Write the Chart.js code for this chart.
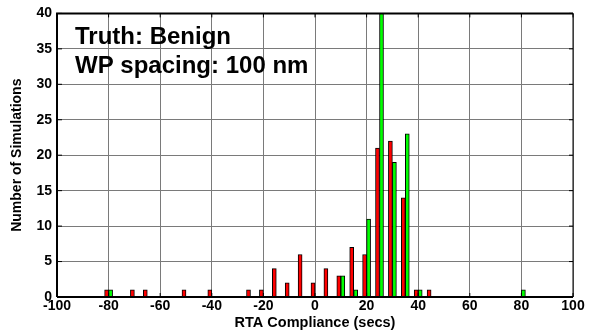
<!DOCTYPE html>
<html>
<head>
<meta charset="utf-8">
<script src="https://cdn.jsdelivr.net/npm/chart.js@4/dist/chart.umd.min.js"></script>
<style>
    html, body { margin: 0; padding: 0; background: #fff; }
    #wrap { width: 590px; height: 333px; }
</style>
</head>
<body>
<div id="wrap"><canvas id="histChart" width="590" height="333"></canvas></div>
<script>
// Histogram bins (secs) and counts
const redBins = [-80, -70, -65, -50, -40, -25, -20, -15, -10, -5, 0, 5, 10, 15, 20, 25, 30, 35, 40, 45];
const redCounts = [1, 1, 1, 1, 1, 1, 1, 4, 2, 6, 2, 4, 3, 7, 6, 21, 22, 14, 1, 1];
const greenBins = [-80, 10, 15, 20, 25, 30, 35, 40, 80];
const greenCounts = [1, 3, 1, 11, 40, 19, 23, 1, 1];

const xTicks = [-100, -80, -60, -40, -20, 0, 20, 40, 60, 80, 100];
const yTicks = [0, 5, 10, 15, 20, 25, 30, 35, 40];
const notes = ['Truth: Benign', 'WP spacing: 100 nm'];

const FONT = "'Liberation Sans', Arial, Helvetica, sans-serif";

function toPoints(bins, counts) {
    return bins.map((b, i) => ({ x: b, y: counts[i] }));
}

// frame, inward tick marks and the annotation text
const framePlugin = {
    id: 'frame',
    afterDatasetsDraw(chart) {
        const { ctx, chartArea: a, scales } = chart;
        ctx.save();
        ctx.strokeStyle = '#000';
        ctx.lineWidth = 1;
        xTicks.forEach(v => {
            const x = scales.x.getPixelForValue(v);
            ctx.beginPath();
            ctx.moveTo(x, a.bottom); ctx.lineTo(x, a.bottom - 4);
            ctx.moveTo(x, a.top); ctx.lineTo(x, a.top + 4);
            ctx.stroke();
        });
        yTicks.forEach(v => {
            const y = scales.y.getPixelForValue(v);
            ctx.beginPath();
            ctx.moveTo(a.left, y); ctx.lineTo(a.left + 5, y);
            ctx.moveTo(a.right, y); ctx.lineTo(a.right - 4, y);
            ctx.stroke();
        });
        ctx.lineWidth = 2;
        ctx.beginPath();
        ctx.moveTo(a.left, a.bottom); ctx.lineTo(a.left, a.top); ctx.lineTo(a.right, a.top);
        ctx.moveTo(a.left, a.bottom); ctx.lineTo(a.right, a.bottom);
        ctx.stroke();
        ctx.lineWidth = 1;
        ctx.beginPath();
        ctx.moveTo(a.right, a.top); ctx.lineTo(a.right, a.bottom);
        ctx.stroke();

        ctx.fillStyle = '#000';
        ctx.font = 'bold 24px ' + FONT;
        ctx.textBaseline = 'alphabetic';
        ctx.textAlign = 'left';
        ctx.fillText(notes[0], 75, 44);
        ctx.fillText(notes[1], 75, 73);
        ctx.restore();
    }
};

const ctx = document.getElementById('histChart').getContext('2d');
new Chart(ctx, {
    type: 'bar',
    data: {
        datasets: [{
            data: toPoints(redBins, redCounts),
            backgroundColor: '#ff0000',
            borderColor: '#000',
            borderWidth: 1,
            barThickness: 4
        }, {
            data: toPoints(greenBins, greenCounts),
            backgroundColor: '#00ff00',
            borderColor: '#000',
            borderWidth: 1,
            barThickness: 4
        }]
    },
    options: {
        responsive: false,
        animation: false,
        layout: { padding: { left: 0, right: 17, top: 11, bottom: 0 } },
        plugins: {
            legend: { display: false },
            tooltip: { enabled: false }
        },
        scales: {
            x: {
                type: 'linear',
                min: -100,
                max: 100,
                offset: false,
                afterBuildTicks: scale => { scale.ticks = xTicks.map(v => ({ value: v })); },
                afterFit: scale => { scale.height = 36; },
                grid: { color: '#7a7a7a', lineWidth: 1, drawTicks: false, offset: false },
                border: { display: false },
                ticks: {
                    color: '#000',
                    padding: 1,
                    maxRotation: 0,
                    font: { family: FONT, size: 14, weight: 'bold' }
                },
                title: {
                    display: true,
                    text: 'RTA Compliance (secs)',
                    color: '#000',
                    padding: { top: 0, bottom: 1 },
                    font: { family: FONT, size: 14.5, weight: 'bold' }
                }
            },
            y: {
                min: 0,
                max: 40,
                afterBuildTicks: scale => { scale.ticks = yTicks.map(v => ({ value: v })); },
                afterFit: scale => { scale.width = 57; },
                grid: { color: '#7a7a7a', lineWidth: 1, drawTicks: false },
                border: { display: false },
                ticks: {
                    color: '#000',
                    padding: 5,
                    font: { family: FONT, size: 14, weight: 'bold' }
                },
                title: {
                    display: true,
                    text: 'Number of Simulations',
                    color: '#000',
                    padding: { top: 9, bottom: 0 },
                    font: { family: FONT, size: 14, weight: 'bold' }
                }
            }
        }
    },
    plugins: [framePlugin]
});
</script>
</body>
</html>
